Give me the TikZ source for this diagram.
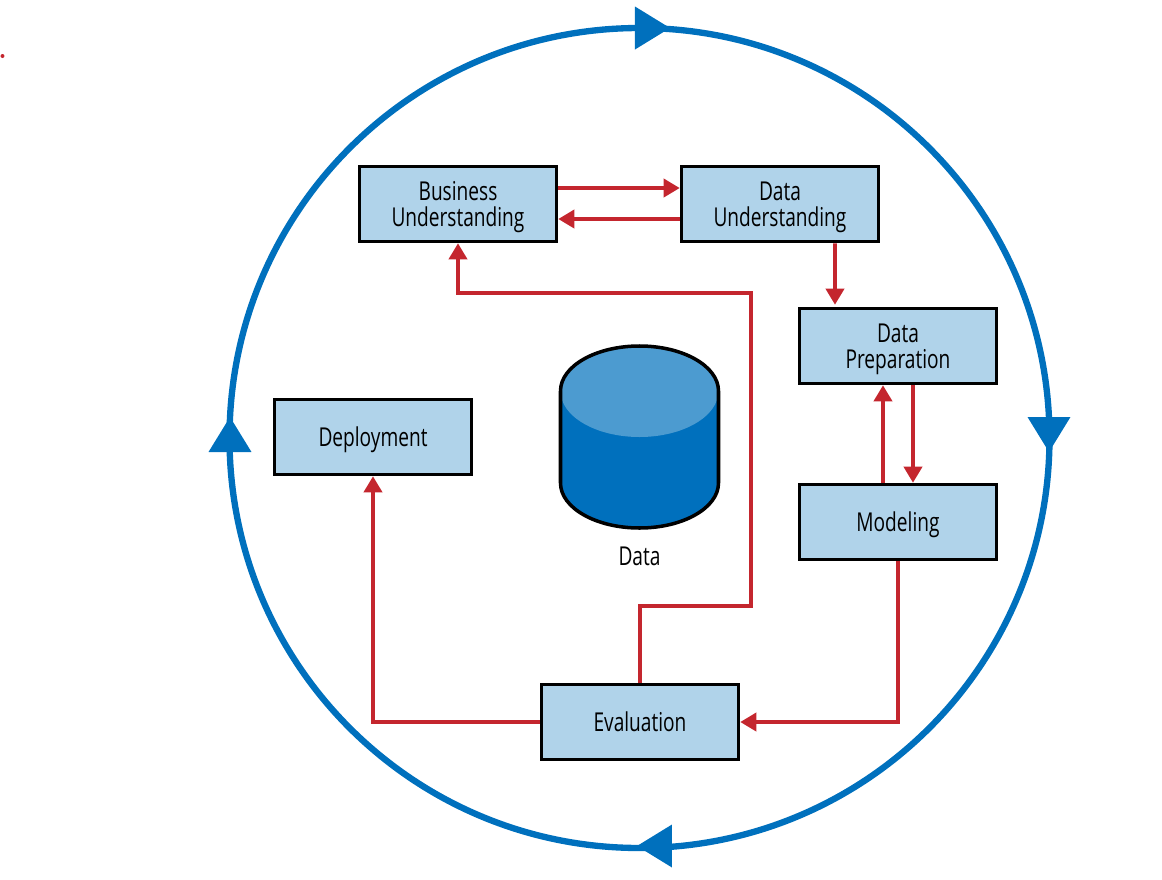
\documentclass[tikz,border=0pt]{standalone}
\usepackage{fontspec}
\setmainfont{Open Sans}[FakeStretch=0.735]
\usetikzlibrary{arrows.meta}
\definecolor{cycleblue}{HTML}{0070BD}
\definecolor{lightblue}{HTML}{4C9BD0}
\definecolor{boxblue}{HTML}{B0D3EA}
\definecolor{flowred}{HTML}{C4262E}
\tikzset{
  stage/.style={draw=black, fill=boxblue, line width=1pt, minimum width=1.97cm, minimum height=.75cm, inner sep=0pt, align=center, text depth=0pt, font=\fontsize{7.4}{7.4}\selectfont},
  flow/.style={draw=flowred, line width=1pt, -{Triangle[length=.16cm,width=.18cm]}},
  loopline/.style={draw=cycleblue, line width=1.8pt}
}
\begin{document}
\begin{tikzpicture}
   \useasboundingbox (0,0) rectangle (11.62,8.79);

   \fill[flowred] (.025,8.23) circle (.02);

   \node [circle, loopline, minimum size=8.2cm, inner sep=0pt, outer sep=0pt] (cycle) at (6.395,4.41) {};

   \foreach \x/\y/\a in {6.70/8.51/0, 10.49/4.27/-90, 6.37/.33/180, 2.30/4.62/90}
     \fill[cycleblue, shift={(\x,\y)}, rotate=\a] (0,0) -- (-.35,.215) -- (-.35,-.215) -- cycle;

   \foreach \n/\x/\y/\t in {bu/4.58/6.75/{Business\\Understanding}, du/7.80/6.75/{Data\\Understanding}, dp/8.98/5.33/{Data\\Preparation}, mo/8.98/3.57/Modeling, ev/6.40/1.57/Evaluation, de/3.73/4.42/Deployment}
     \node [stage] (\n) at (\x,\y) {\t};

   % data store
   \fill[cycleblue] (5.605,4.88) -- (5.605,3.96) arc (180:360:.79 and .45) -- (7.185,4.88) -- cycle;
   \fill[lightblue] (6.395,4.88) ellipse (.79 and .46);
   \draw[line width=1pt] (5.605,4.88) -- (5.605,3.96) arc (180:360:.79 and .45) -- (7.185,4.88) arc (0:180:.79 and .45);
   \node [font=\fontsize{7.4}{7.4}\selectfont] (data) at (6.395,3.23) {Data};

   \coordinate (up) at (7.51,2.73);
   \coordinate (over) at (7.51,5.86);

   \draw[flow] ([yshift=.16cm]bu.east) -- ([yshift=.16cm]du.west);
   \draw[flow] ([yshift=-.15cm]du.west) -- ([yshift=-.15cm]bu.east);
   \draw[flow] ([xshift=.55cm]du.south) -- ([xshift=-.63cm,yshift=.02cm]dp.north);
   \draw[flow] ([xshift=.15cm]dp.south) -- ([xshift=.15cm]mo.north);
   \draw[flow] ([xshift=-.15cm]mo.north) -- ([xshift=-.15cm]dp.south);
   \draw[flow] (mo.south) |- (ev.east);
   \draw[flow] (ev.west) -| (de.south);
   \draw[flow] (ev.north) |- (up) -- (over) -| (bu.south);
\end{tikzpicture}
\end{document}
